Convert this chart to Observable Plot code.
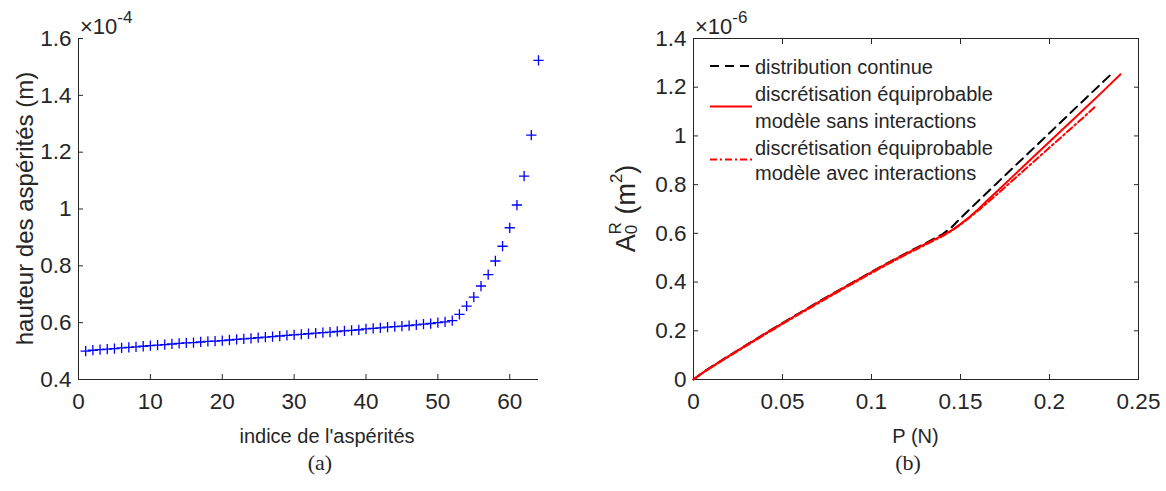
<!DOCTYPE html>
<html><head><meta charset="utf-8">
<script src="https://cdn.jsdelivr.net/npm/d3@7"></script>
<script src="https://cdn.jsdelivr.net/npm/@observablehq/plot@0.6"></script>
<style>
html,body{margin:0;padding:0;background:#fff;}
#root{position:relative;width:1166px;height:491px;overflow:hidden;}
#root > svg{position:absolute;top:0;}
</style></head><body><div id="root"></div>
<script>
// ---------- Panel (a): asperity heights (x 1e-4 m) ----------
const asperityIndex = [
  1,2,3,4,5,6,7,8,9,10,
  11,12,13,14,15,16,17,18,19,20,
  21,22,23,24,25,26,27,28,29,30,
  31,32,33,34,35,36,37,38,39,40,
  41,42,43,44,45,46,47,48,49,50,
  51,52,53,54,55,56,57,58,59,60,
  61,62,63,64];
const asperityHeight = [
  0.500,0.503,0.505,0.507,0.509,0.511,0.513,0.515,0.517,0.519,
  0.521,0.523,0.525,0.527,0.529,0.530,0.532,0.534,0.535,0.537,
  0.539,0.541,0.543,0.545,0.547,0.549,0.551,0.553,0.555,0.557,
  0.559,0.561,0.563,0.565,0.567,0.569,0.571,0.573,0.575,0.578,
  0.580,0.582,0.584,0.586,0.588,0.590,0.592,0.595,0.597,0.600,
  0.603,0.607,0.629,0.658,0.690,0.729,0.769,0.817,0.869,0.934,
  1.014,1.116,1.260,1.523];
const xTicksA = [0,10,20,30,40,50,60];
const xTickLabelsA = ["0","10","20","30","40","50","60"];
const yTicksA = [0.4,0.6,0.8,1.0,1.2,1.4,1.6];
const yTickLabelsA = ["0.4","0.6","0.8","1","1.2","1.4","1.6"];

// ---------- Panel (b): real contact area A0R (x 1e-6 m^2) vs P (N) ----------
const pContinuous = [0,0.005,0.01,0.02,0.03,0.04,0.05,0.06,0.07,0.08,0.09,0.10,0.11,0.12,0.13,0.14,0.145,0.15,0.16,0.17,0.18,0.19,0.20,0.21,0.22,0.2346];
const aContinuous = [0,0.028,0.052,0.098,0.143,0.188,0.232,0.275,0.318,0.360,0.401,0.442,0.482,0.521,0.558,0.597,0.625,0.662,0.733,0.803,0.873,0.942,1.012,1.082,1.152,1.253];
const pSans = [0,0.005,0.01,0.02,0.03,0.04,0.05,0.06,0.07,0.08,0.09,0.10,0.11,0.12,0.13,0.14,0.145,0.15,0.155,0.16,0.165,0.17,0.18,0.19,0.20,0.21,0.22,0.23,0.2399];
const aSans = [0,0.027,0.051,0.097,0.142,0.187,0.231,0.274,0.317,0.359,0.400,0.441,0.481,0.519,0.556,0.592,0.612,0.638,0.667,0.699,0.735,0.769,0.838,0.907,0.976,1.045,1.114,1.183,1.253];
const pAvec = [0,0.005,0.01,0.02,0.03,0.04,0.05,0.06,0.07,0.08,0.09,0.10,0.11,0.12,0.13,0.14,0.145,0.15,0.155,0.16,0.1665,0.17,0.18,0.19,0.20,0.21,0.22,0.2264];
const aAvec = [0,0.026,0.050,0.095,0.140,0.184,0.228,0.271,0.313,0.355,0.396,0.437,0.477,0.515,0.552,0.589,0.610,0.636,0.664,0.694,0.735,0.757,0.822,0.887,0.952,1.017,1.082,1.125];
const xTicksB = [0,0.05,0.10,0.15,0.20,0.25];
const xTickLabelsB = ["0","0.05","0.1","0.15","0.2","0.25"];
const yTicksB = [0,0.2,0.4,0.6,0.8,1.0,1.2,1.4];
const yTickLabelsB = ["0","0.2","0.4","0.6","0.8","1","1.2","1.4"];
const legendLabels = ["distribution continue", "discrétisation équiprobable", "modèle sans interactions", "discrétisation équiprobable", "modèle avec interactions"];

// ---------- styling ----------
const ink = "#262626";
const sans = "'Liberation Sans', Arial, Helvetica, sans-serif";
const serif = "'Liberation Serif', 'Times New Roman', serif";
const fs = 20;      // x labels / legend
const tfs = 22.5;   // tick labels
const yfs = 24;     // y-axis label (a)

const asperities = asperityIndex.map((k, i) => ({index: k, height: asperityHeight[i]}));
const mk = (ps, as, name) => ps.map((p, i) => ({p, a: as[i], s: name}));
const contData = mk(pContinuous, aContinuous, "cont");
const sansData = mk(pSans, aSans, "sans");
const avecData = mk(pAvec, aAvec, "avec");

const fmt = (ticks, labels) => d => labels[ticks.findIndex(t => Math.abs(t - d) < 1e-9)];

const root = document.getElementById("root");

const panelA = Plot.plot({
  width: 583, height: 491,
  marginLeft: 78, marginRight: 45, marginTop: 38, marginBottom: 112,
  style: {fontFamily: sans, color: ink, background: "white", overflow: "visible"},
  x: {domain: [0, 64]},
  y: {domain: [0.4, 1.6]},
  marks: [
    Plot.ruleX([0], {stroke: ink, strokeWidth: 1}),
    Plot.ruleY([0.4], {stroke: ink, strokeWidth: 1}),
    Plot.axisX({ticks: xTicksA, tickFormat: fmt(xTicksA, xTickLabelsA), tickSize: -5, tickPadding: 19, fontSize: tfs, label: null}),
    Plot.axisY({ticks: yTicksA, tickFormat: fmt(yTicksA, yTickLabelsA), tickSize: -5, tickPadding: 12, fontSize: tfs, label: null}),
    Plot.dot(asperities, {x: "index", y: "height", symbol: "plus", r: 3.4, stroke: "#0000ff", strokeWidth: 1.3})
  ]
});
panelA.style.left = "0px";
root.appendChild(panelA);

const panelB = Plot.plot({
  width: 583, height: 491,
  marginLeft: 110, marginRight: 28, marginTop: 38, marginBottom: 112,
  style: {fontFamily: sans, color: ink, background: "white", overflow: "visible"},
  x: {domain: [0, 0.25]},
  y: {domain: [0, 1.4]},
  marks: [
    Plot.frame({stroke: ink, strokeWidth: 1}),
    Plot.axisX({ticks: xTicksB, tickFormat: fmt(xTicksB, xTickLabelsB), tickSize: -5, tickPadding: 19, fontSize: tfs, label: null}),
    Plot.axisX({anchor: "top", ticks: xTicksB, tickFormat: () => "", tickSize: -5, label: null}),
    Plot.axisY({ticks: yTicksB, tickFormat: fmt(yTicksB, yTickLabelsB), tickSize: -5, tickPadding: 12, fontSize: tfs, label: null}),
    Plot.axisY({anchor: "right", ticks: yTicksB, tickFormat: () => "", tickSize: -5, label: null}),
    Plot.line(contData, {x: "p", y: "a", stroke: "#000000", strokeWidth: 2, strokeDasharray: "9,6"}),
    Plot.line(sansData, {x: "p", y: "a", stroke: "#ff0000", strokeWidth: 2}),
    Plot.line(avecData, {x: "p", y: "a", stroke: "#ff0000", strokeWidth: 2, strokeDasharray: "7,3,2,3"})
  ]
});
panelB.style.left = "583px";
root.appendChild(panelB);

// ---------- annotations ----------
function addText(svg, x, y, opts) {
  return d3.select(svg).append("text")
    .attr("x", x).attr("y", y)
    .attr("font-family", opts.family || sans)
    .attr("font-size", opts.size || fs)
    .attr("fill", opts.fill || ink)
    .attr("text-anchor", opts.anchor || "start")
    .attr("transform", opts.rotate ? `rotate(-90 ${x} ${y})` : null);
}
function exponent(svg, x, power) {
  const t = addText(svg, x, 34, {size: 22});
  t.append("tspan").text("×10");
  t.append("tspan").attr("font-size", 17).attr("dy", -11).text(power);
}
const sB = panelB.scale("x");
const yA = panelA.scale("y"), yB = panelB.scale("y");

// panel a
exponent(panelA, 80, "-4");
addText(panelA, 327, 443, {anchor: "middle"}).text("indice de l'aspérités");
addText(panelA, 33, (yA.apply(0.4) + yA.apply(1.6)) / 2, {anchor: "middle", rotate: true, size: yfs}).text("hauteur des aspérités (m)");
addText(panelA, 320, 470, {anchor: "middle", family: serif, size: 22}).text("(a)");

// panel b
exponent(panelB, 112, "-6");
addText(panelB, (sB.apply(0) + sB.apply(0.25)) / 2, 443, {anchor: "middle"}).text("P (N)");
addText(panelB, 325, 470, {anchor: "middle", family: serif, size: 22}).text("(b)");
{
  const t = addText(panelB, 52, (yB.apply(0) + yB.apply(1.4)) / 2, {anchor: "middle", rotate: true, size: 27});
  t.append("tspan").text("A");
  t.append("tspan").attr("font-size", 17).attr("dy", 2).text("0");
  t.append("tspan").attr("font-size", 17).attr("dx", -9.5).attr("dy", -16).text("R");
  t.append("tspan").attr("dy", 14).text(" (m");
  t.append("tspan").attr("font-size", 17).attr("dy", -13).text("2");
  t.append("tspan").attr("dy", 13).text(")");
}
// legend (box off, upper-left)
{
  const g = d3.select(panelB).append("g").attr("text-anchor", "start");
  const lx0 = 127, lx1 = 169, tx = 172;
  const rows = [67, 94, 120.5, 147.5, 173];
  legendLabels.forEach((s, i) => {
    g.append("text").attr("x", tx).attr("y", rows[i]).attr("dy", "0.35em")
      .attr("text-anchor", "start")
      .attr("font-family", sans).attr("font-size", fs).attr("fill", ink).text(s);
  });
  g.append("line").attr("x1", lx0).attr("x2", lx1).attr("y1", 66).attr("y2", 66)
    .attr("stroke", "#000").attr("stroke-width", 2).attr("stroke-dasharray", "9,6");
  g.append("line").attr("x1", lx0).attr("x2", lx1).attr("y1", 106.5).attr("y2", 106.5)
    .attr("stroke", "#f00").attr("stroke-width", 2);
  g.append("line").attr("x1", lx0).attr("x2", lx1).attr("y1", 159.5).attr("y2", 159.5)
    .attr("stroke", "#f00").attr("stroke-width", 2).attr("stroke-dasharray", "7,3,2,3");
}
</script></body></html>
